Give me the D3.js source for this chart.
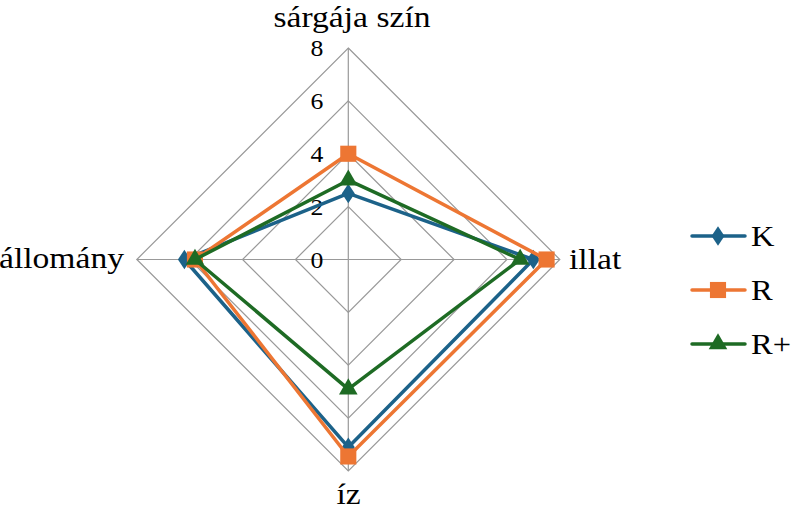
<!DOCTYPE html>
<html>
<head>
<meta charset="utf-8">
<script src="https://cdn.jsdelivr.net/npm/d3@7"></script>
</head>
<body style="margin:0">
<div id="chart"></div>
<script>
// data
var axes = ["sárgája szín", "illat", "íz", "állomány"];
var seriesNames = ["K", "R", "R+"];
var valuesK = [2.5, 7.0, 7.1, 6.2];
var valuesR = [4.0, 7.5, 7.45, 5.8];
var valuesRplus = [3.0, 6.5, 4.9, 5.8];
var ticks = [0, 2, 4, 6, 8];

var width = 791, height = 513;
var cx = 348.3, cy = 259.5, radius = 211.5;
var stretch = 1.12; // the original text is a bit wider than Liberation Serif

var svg = d3.select("#chart").append("svg")
	.attr("width", width)
	.attr("height", height)
	.attr("font-family", "Liberation Serif, serif");

var r = d3.scaleLinear().domain([0, 8]).range([0, radius]);
var angle = d3.scalePoint().domain(axes).range([0, 2 * Math.PI * 3 / 4]);

function pt(axis, v) {
	var a = angle(axis) - Math.PI / 2;
	return [cx + r(v) * Math.cos(a), cy + r(v) * Math.sin(a)];
}

function place(x, y) {
	return "translate(" + x + "," + y + ") scale(" + stretch + ",1)";
}

var g = svg.append("g");

// grid rings
ticks.filter(function(t) { return t > 0; }).forEach(function(t) {
	g.append("path")
		.attr("d", d3.line()(axes.map(function(a) { return pt(a, t); })) + "Z")
		.attr("fill", "none")
		.attr("stroke", "#999")
		.attr("stroke-width", 1.2);
});

// spokes
axes.forEach(function(a) {
	var p = pt(a, 8);
	g.append("line")
		.attr("x1", cx).attr("y1", cy)
		.attr("x2", p[0]).attr("y2", p[1])
		.attr("stroke", "#999")
		.attr("stroke-width", 1.2);
});

// tick labels
g.selectAll(".tick").data(ticks).enter().append("text")
	.attr("class", "tick")
	.attr("transform", function(d) { return place(cx - 25, cy - r(d) + 8); })
	.attr("text-anchor", "end")
	.attr("font-size", "23px")
	.text(function(d) { return d; });

// axis labels
var labelPos = {
	"sárgája szín": {x: 352, y: 27, anchor: "middle"},
	"illat": {x: 569, y: 269, anchor: "start"},
	"íz": {x: 348.5, y: 504, anchor: "middle"},
	"állomány": {x: 124, y: 268, anchor: "end"}
};
axes.forEach(function(a) {
	g.append("text")
		.attr("transform", place(labelPos[a].x, labelPos[a].y))
		.attr("text-anchor", labelPos[a].anchor)
		.attr("font-size", "30px")
		.text(a);
});

var series = [
	{name: seriesNames[0], values: valuesK, color: "#1c6289", symbol: d3.symbolDiamond, size: 110},
	{name: seriesNames[1], values: valuesR, color: "#ed7633", symbol: d3.symbolSquare, size: 260},
	{name: seriesNames[2], values: valuesRplus, color: "#1e6b24", symbol: d3.symbolTriangle, size: 150}
];

series.forEach(function(s) {
	var pts = axes.map(function(a, i) { return pt(a, s.values[i]); });
	g.append("path")
		.attr("d", d3.line()(pts) + "Z")
		.attr("fill", "none")
		.attr("stroke", s.color)
		.attr("stroke-width", 3.5)
		.attr("stroke-linejoin", "round");
	g.selectAll(null).data(pts).enter().append("path")
		.attr("d", d3.symbol().type(s.symbol).size(s.size))
		.attr("transform", function(p) {
			var sy = s.symbol === d3.symbolDiamond ? " scale(1.15,1)" : "";
			return "translate(" + p[0] + "," + p[1] + ")" + sy;
		})
		.attr("fill", s.color);
});

// legend
var legend = svg.append("g");
var legendY = d3.scalePoint().domain(seriesNames).range([236, 344]);
series.forEach(function(s) {
	var y = legendY(s.name);
	legend.append("line")
		.attr("x1", 692).attr("x2", 745)
		.attr("y1", y).attr("y2", y)
		.attr("stroke", s.color)
		.attr("stroke-width", 3.5)
		.attr("stroke-linecap", "round");
	legend.append("path")
		.attr("d", d3.symbol().type(s.symbol).size(s.size))
		.attr("transform", "translate(718," + y + ")" + (s.symbol === d3.symbolDiamond ? " scale(1.15,1)" : ""))
		.attr("fill", s.color);
	legend.append("text")
		.attr("transform", place(751, y + 10))
		.attr("font-size", "29px")
		.text(s.name);
});
</script>
</body>
</html>
